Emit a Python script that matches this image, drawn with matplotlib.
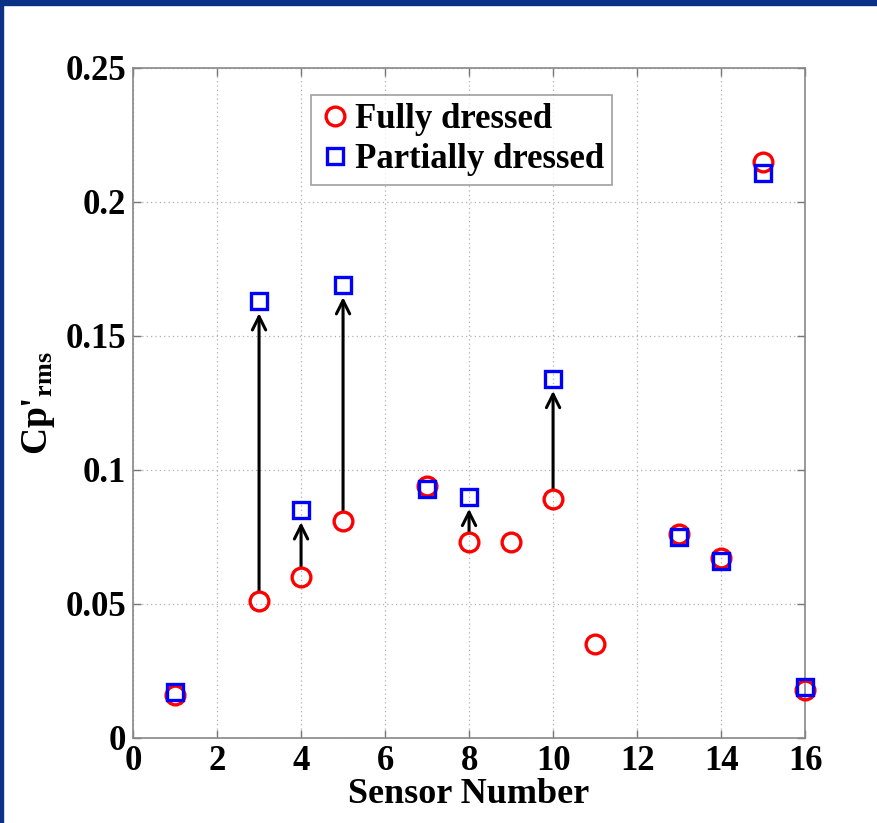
import matplotlib
matplotlib.use("Agg")
import matplotlib.pyplot as plt
from matplotlib.patches import Rectangle
from matplotlib.ticker import FuncFormatter

plt.rcParams["font.family"] = ["Liberation Serif", "DejaVu Serif"]
plt.rcParams["font.weight"] = "bold"
plt.rcParams["mathtext.fontset"] = "custom"
plt.rcParams["mathtext.rm"] = "Liberation Serif:bold"
plt.rcParams["mathtext.it"] = "Liberation Serif:bold"

# sensor readings (rms pressure coefficient fluctuation)
full_sensors = [1, 3, 4, 5, 7, 8, 9, 10, 11, 13, 14, 15, 16]
full_cp = [0.016, 0.051, 0.060, 0.081, 0.094, 0.073, 0.073, 0.089, 0.035, 0.076, 0.067, 0.215, 0.018]
part_sensors = [1, 3, 4, 5, 7, 8, 10, 13, 14, 15, 16]
part_cp = [0.017, 0.163, 0.085, 0.169, 0.093, 0.090, 0.134, 0.075, 0.066, 0.211, 0.019]
# sensors where the partial dressing raises the fluctuation
jump_sensors = [3, 4, 5, 8, 10]

fig = plt.figure(figsize=(8.77, 8.23), dpi=100)
ax = fig.add_axes([0.1517, 0.1033, 0.7663, 0.8141])

ax.plot(full_sensors, full_cp, "o", ls="none", mfc="none", mec="red", mew=2.4, ms=13.5,
        label="Fully dressed", zorder=3, clip_on=False)
ax.plot(part_sensors, part_cp, "s", ls="none", mfc="none", mec="blue", mew=2.4, ms=11.5,
        label="Partially dressed", zorder=4, clip_on=False)

fmap = dict(zip(full_sensors, full_cp))
pmap = dict(zip(part_sensors, part_cp))
for s in jump_sensors:
    ax.annotate("", xy=(s, pmap[s] - 0.0045), xytext=(s, fmap[s] + 0.004),
                arrowprops=dict(arrowstyle="->", color="black", lw=2.2,
                                mutation_scale=24, shrinkA=0, shrinkB=0), zorder=2)

ax.set_xlim(0, 16)
ax.set_ylim(0, 0.25)
ax.set_xticks(range(0, 17, 2))
ax.set_yticks([0, 0.05, 0.1, 0.15, 0.2, 0.25])
ax.yaxis.set_major_formatter(FuncFormatter(lambda v, p: f"{v:g}"))
ax.grid(True, ls=(0, (1, 2.5)), color="#b0b0b0", lw=0.9)
ax.tick_params(direction="in", length=6, width=1, colors="#777777", labelcolor="black",
               labelsize=25, top=True, right=True, pad=5)
for lab in ax.get_xticklabels() + ax.get_yticklabels():
    lab.set_fontweight("bold")
for sp in ax.spines.values():
    sp.set_color("#888888")
    sp.set_linewidth(1.2)

ax.set_xlabel("Sensor Number", fontsize=26, fontweight="bold", labelpad=0)
ax.set_ylabel(r"Cp'$_{\mathrm{rms}}$", fontsize=27, fontweight="bold", labelpad=6)

leg = ax.legend(loc="upper left", bbox_to_anchor=(0.265, 0.96),
                prop={"weight": "bold", "size": 25}, frameon=True, fancybox=False,
                handletextpad=0.1, handlelength=0.9, borderpad=0.25, labelspacing=0.2,
                borderaxespad=0)
leg.get_frame().set_edgecolor("#888888")
leg.get_frame().set_linewidth(1.2)

# dark blue slide frame along the top and left edges
fig.patches.append(Rectangle((0, 1 - 5 / 823), 1, 5 / 823, transform=fig.transFigure,
                             color="#0a3186", zorder=10))
fig.patches.append(Rectangle((0, 0), 3 / 877, 1, transform=fig.transFigure,
                             color="#0a3186", zorder=10))

fig.savefig("out.png", dpi=100)
